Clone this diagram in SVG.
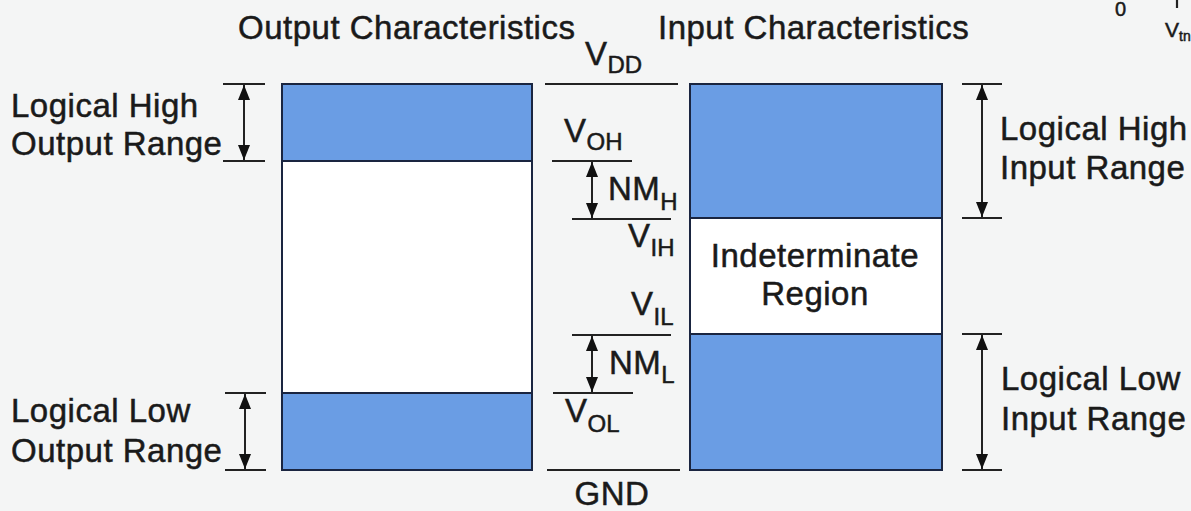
<svg xmlns="http://www.w3.org/2000/svg" width="1191" height="511" viewBox="0 0 1191 511">
  <style>
    text { font-family: "Liberation Sans", Arial, sans-serif; fill: #1a1a1a; stroke: #1a1a1a; stroke-width: 0.5px; }
    .lbl { font-size: 33px; letter-spacing: 0.5px; }
    .sub { font-size: 24px; letter-spacing: 0; }
    .band { fill: #6a9de4; stroke: #1a2540; stroke-width: 2; }
    .white { fill: #ffffff; stroke: #1a2540; stroke-width: 2; }
    .lvl { stroke: #222; stroke-width: 2.2; fill: none; }
    .arr { stroke: #222; stroke-width: 2; fill: none; marker-start: url(#ah); marker-end: url(#ah); }
    .small { font-size: 20px; }
  </style>
  <defs>
    <marker id="ah" markerUnits="userSpaceOnUse" markerWidth="15" markerHeight="13" refX="15" refY="6" orient="auto-start-reverse">
      <path d="M0,0 L15,6 L0,12 z" fill="#111"/>
    </marker>
  </defs>
  <rect x="0" y="0" width="1191" height="511" fill="#f4f5f5"/>

  <g id="titles">
    <text class="lbl" x="238" y="39">Output Characteristics</text>
    <text class="lbl" x="658" y="39">Input Characteristics</text>
  </g>

  <g id="output-column">
    <rect class="white" x="282" y="84" width="250" height="386"/>
    <rect id="output-high" class="band" x="282" y="84" width="250" height="77"/>
    <rect id="output-low" class="band" x="282" y="393" width="250" height="77"/>
  </g>

  <g id="input-column">
    <rect class="white" x="690" y="84" width="252" height="386"/>
    <rect id="input-high" class="band" x="690" y="84" width="252" height="134"/>
    <rect id="input-low" class="band" x="690" y="334" width="252" height="136"/>
  </g>

  <g id="connectors">
    <line class="lvl" x1="223" y1="84" x2="265" y2="84"/>
    <line class="lvl" x1="223" y1="161" x2="265" y2="161"/>
    <line class="arr" x1="244" y1="85" x2="244" y2="160"/>
    <line class="lvl" x1="225" y1="393" x2="266" y2="393"/>
    <line class="lvl" x1="225" y1="470" x2="266" y2="470"/>
    <line class="arr" x1="245" y1="394" x2="245" y2="469"/>

    <line class="lvl" x1="545" y1="84" x2="678" y2="84"/>
    <line class="lvl" x1="552" y1="161" x2="632" y2="161"/>
    <line class="arr" x1="592" y1="162" x2="592" y2="218"/>
    <line class="lvl" x1="572" y1="219" x2="671" y2="219"/>
    <line class="lvl" x1="572" y1="335" x2="671" y2="335"/>
    <line class="arr" x1="592" y1="336" x2="592" y2="392"/>
    <line class="lvl" x1="553" y1="393" x2="633" y2="393"/>
    <line class="lvl" x1="547" y1="470" x2="680" y2="470"/>

    <line class="lvl" x1="962" y1="84" x2="1002" y2="84"/>
    <line class="lvl" x1="962" y1="218" x2="1002" y2="218"/>
    <line class="arr" x1="982" y1="85" x2="982" y2="217"/>
    <line class="lvl" x1="962" y1="334" x2="1002" y2="334"/>
    <line class="lvl" x1="962" y1="470" x2="1002" y2="470"/>
    <line class="arr" x1="982" y1="335" x2="982" y2="469"/>
  </g>

  <g id="output-labels">
    <text class="lbl" x="11" y="117">Logical High</text>
    <text class="lbl" x="11" y="155">Output Range</text>
    <text class="lbl" x="11" y="422">Logical Low</text>
    <text class="lbl" x="11" y="462">Output Range</text>
  </g>

  <g id="levels">
    <text class="lbl" x="585" y="65">V<tspan class="sub" dy="8">DD</tspan></text>
    <text class="lbl" x="564" y="142">V<tspan class="sub" dy="8">OH</tspan></text>
    <text class="lbl" x="608" y="200">NM<tspan class="sub" dy="10">H</tspan></text>
    <text class="lbl" x="628" y="247">V<tspan class="sub" dy="9">IH</tspan></text>
    <text class="lbl" x="631" y="315">V<tspan class="sub" dy="10">IL</tspan></text>
    <text class="lbl" x="609" y="374">NM<tspan class="sub" dy="9">L</tspan></text>
    <text class="lbl" x="565" y="422">V<tspan class="sub" dy="10">OL</tspan></text>
    <text class="lbl" x="612" y="505" text-anchor="middle">GND</text>
  </g>

  <g id="indeterminate">
    <text class="lbl" x="815" y="267" text-anchor="middle">Indeterminate</text>
    <text class="lbl" x="815" y="305" text-anchor="middle">Region</text>
  </g>

  <g id="input-labels">
    <text class="lbl" x="1000" y="140">Logical High</text>
    <text class="lbl" x="1000" y="179">Input Range</text>
    <text class="lbl" x="1001" y="390">Logical Low</text>
    <text class="lbl" x="1001" y="430">Input Range</text>
  </g>

  <g id="corner">
    <text class="small" x="1115" y="16">0</text>
    <line class="lvl" x1="1177" y1="0" x2="1177" y2="8" stroke-width="1.5"/>
    <text x="1165" y="37" font-size="21">V<tspan font-size="14" dy="4">tn</tspan></text>
  </g>
</svg>
